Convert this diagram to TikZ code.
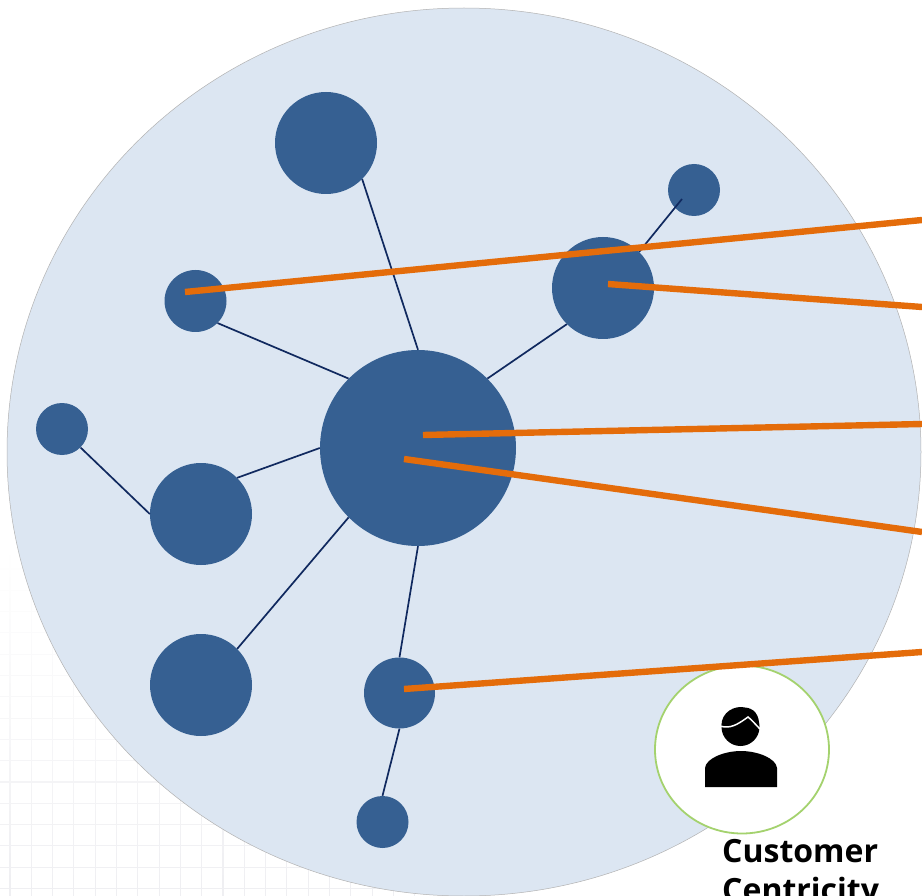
\documentclass[tikz,border=0pt]{standalone}
\usepackage{fontspec}
\usetikzlibrary{shapes.geometric}
\setmainfont{Open Sans}
\begin{document}
\begin{tikzpicture}[x=1pt,y=-1pt,
  blob/.style={circle,fill=nodeblue,draw=none,inner sep=0pt,minimum size=#1},
  link/.style={draw=linknavy,line width=1.7pt},
  ray/.style={draw=rayorange,line width=6.4pt,line cap=butt},
  gridline/.style={line width=1.1pt}]
\definecolor{nodeblue}{HTML}{366092}
\definecolor{linknavy}{HTML}{10295F}
\definecolor{rayorange}{HTML}{E46C0A}
\definecolor{disc}{HTML}{DCE6F2}
\definecolor{gridc}{HTML}{EFEFF2}
\definecolor{ringc}{HTML}{A4D26E}
\clip (0,0) rectangle (922,896);
\useasboundingbox (0,0) rectangle (922,896);
\fill[white] (0,0) rectangle (922,896);
% faint grid, fading upward
\foreach \i in {0,...,16}{
  \pgfmathsetmacro{\yy}{888.5-21.3*\i}
  \pgfmathsetmacro{\mixv}{max(0,100-6.2*\i)}
  \draw[gridline,draw=gridc!\mixv!white] (0,\yy) -- (420,\yy);
}
\foreach \i in {0,...,19}{
  \pgfmathsetmacro{\xx}{10+21.3*\i}
  \foreach \j in {0,...,16}{
    \pgfmathsetmacro{\mixv}{max(0,100-6.2*\j)}
    \pgfmathsetmacro{\ya}{896-21.3*\j}
    \pgfmathsetmacro{\yb}{896-21.3*(\j+1)}
    \draw[gridline,draw=gridc!\mixv!white] (\xx,\ya) -- (\xx,\yb);
  }
}
% large disc
\node[ellipse,fill=disc,draw=black!30,line width=0.5pt,inner sep=0pt,minimum width=914pt,minimum height=888pt] (field) at (464,452) {};
% nodes
\node[blob=196pt] (hub) at (418,448) {};
\node[blob=102pt] (top) at (326,143) {};
\node[blob=52pt]  (tiny) at (694,190) {};
\node[blob=102pt] (right) at (603,288) {};
\node[blob=62pt]  (upleft) at (195.5,301) {};
\node[blob=52pt]  (far) at (62,429) {};
\node[blob=102pt] (left) at (201,514) {};
\node[blob=102pt] (lowleft) at (201,685) {};
\node[blob=71pt]  (low) at (399.5,693) {};
\node[blob=52pt]  (bottom) at (382.5,822) {};
\coordinate (tinyin) at (682,199);
% connectors
\draw[link] (top.-45) -- (hub.90);
\draw[link] (upleft.-45) -- (hub.135);
\draw[link] (right.-135) -- (hub.45);
\draw[link] (left.45) -- (hub.180);
\draw[link] (lowleft.45) -- (hub.-135);
\draw[link] (low.90) -- (hub.-90);
\draw[link] (low.-90) -- (bottom.90);
\draw[link] (far.-45) -- (left.180);
\draw[link] (right.45) -- (tinyin);
% customer badge
\node[ellipse,fill=white,draw=ringc,line width=1.8pt,inner sep=0pt,minimum width=174pt,minimum height=168pt] (badge) at (742,749.5) {};
% person icon
\fill[black] (740.5,727) circle (19pt);
\fill[black] (721.5,726) .. controls (721,712) and (735,705) .. (745,707.5) .. controls (753,708) and (760,714) .. (759,727) -- cycle;
\draw[white,line width=1.5pt] (720,726) .. controls (730,729) and (737,725) .. (748,717) .. controls (752,720) and (755,724) .. (760,729);
\fill[black] (705,787) -- (705,768) .. controls (706,758) and (725,751) .. (741,751) .. controls (757,751) and (776,758) .. (777,768) -- (777,787) -- cycle;
% rays
\coordinate (r1a) at (185,292); \coordinate (r1b) at (922,220);
\coordinate (r2a) at (608,284); \coordinate (r2b) at (922,307);
\coordinate (r3a) at (423,435); \coordinate (r3b) at (922,424);
\coordinate (r4a) at (404,459); \coordinate (r4b) at (922,532);
\coordinate (r5a) at (404,689); \coordinate (r5b) at (922,652);
\draw[ray] (r1a) -- (r1b);
\draw[ray] (r2a) -- (r2b);
\draw[ray] (r3a) -- (r3b);
\draw[ray] (r4a) -- (r4b);
\draw[ray] (r5a) -- (r5b);
% label
\node[anchor=base west,inner sep=0pt,font=\fontsize{32}{39}\selectfont\bfseries] (cust) at (722,862) {Customer};
\node[anchor=base west,inner sep=0pt,font=\fontsize{32}{39}\selectfont\bfseries] (cent) at (722,901) {Centricity};
\end{tikzpicture}
\end{document}
